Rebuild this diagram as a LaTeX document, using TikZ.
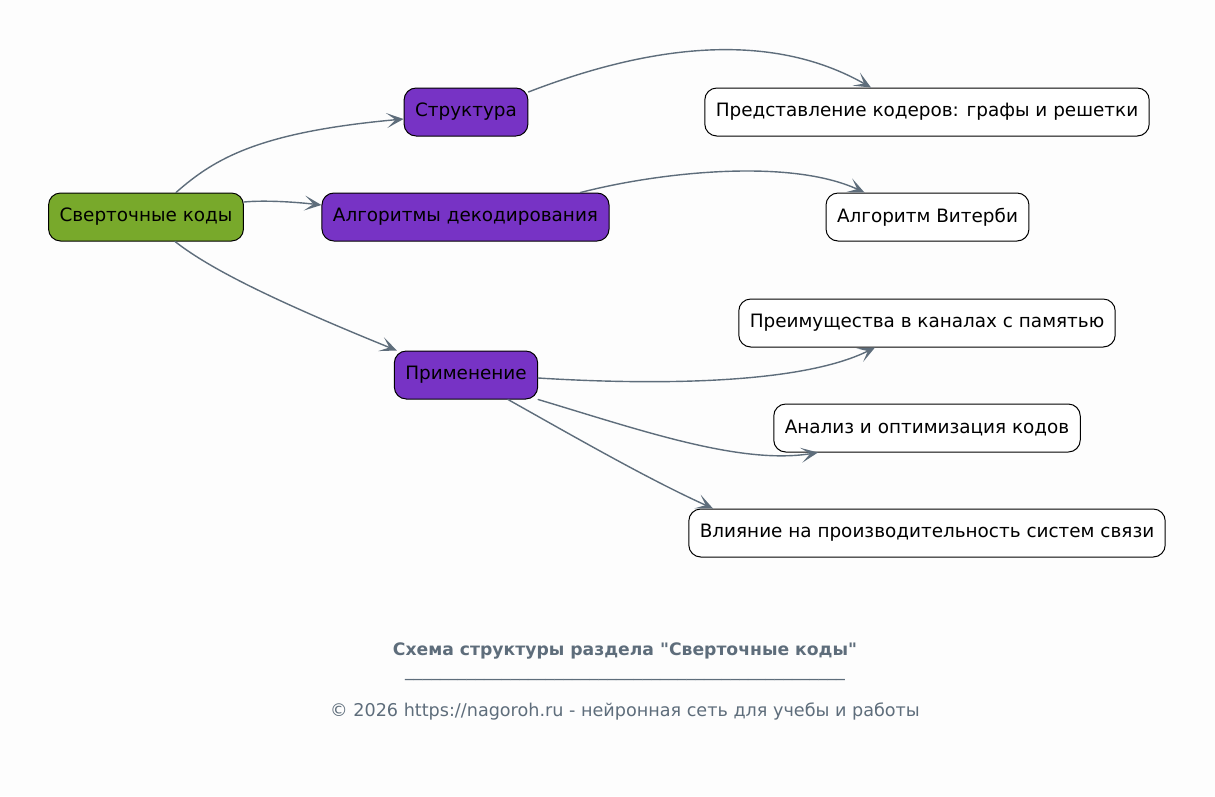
\documentclass[tikz,border=0pt]{standalone}
\usepackage{fontspec}
\setmainfont{DejaVu Sans}[Ligatures=TeXOff]
\usetikzlibrary{arrows.meta}
\definecolor{bgcol}{HTML}{FDFDFD}
\definecolor{rootcol}{HTML}{78A92B}
\definecolor{subcol}{HTML}{7733C5}
\definecolor{linkcol}{HTML}{5E6D7B}
\begin{document}
\begin{tikzpicture}[x=1pt,y=-1pt,line cap=round,line join=round,
	box/.style={draw=black,line width=1pt,rounded corners=12pt,minimum height=48pt,inner xsep=11pt,font=\fontsize{18.4}{22}\selectfont,text=black},
	rootbox/.style={box,fill=rootcol},
	subbox/.style={box,fill=subcol},
	leafbox/.style={box,fill=white},
	link/.style={draw=linkcol,line width=1.4pt,-{Stealth[length=17pt,width=15pt,inset=9pt]}}]
\fill[bgcol] (0,0) rectangle (1215,796);
\node[rootbox] (root) at (146,217) {Сверточные коды};
\node[subbox] (struct) at (466,112) {Структура};
\node[subbox] (algo) at (465.5,217) {Алгоритмы декодирования};
\node[subbox] (appl) at (466,375) {Применение};
\node[leafbox] (repr) at (927,112) {Представление кодеров: графы и решетки};
\node[leafbox] (vit) at (927.5,217) {Алгоритм Витерби};
\node[leafbox] (adv) at (927,323) {Преимущества в каналах с памятью};
\node[leafbox] (anl) at (927,428) {Анализ и оптимизация кодов};
\node[leafbox] (infl) at (927,533) {Влияние на производительность систем связи};
\draw[link] ([xshift=30pt]root.north) .. controls (215,158) and (260,132) .. ([yshift=-7pt]struct.west);
\draw[link] ([yshift=15pt]root.east) .. controls (265,200) and (295,202) .. ([yshift=12pt]algo.west);
\draw[link] ([xshift=29pt]root.south) .. controls (205,265) and (260,295) .. ([xshift=3pt]appl.north west);
\draw[link] ([yshift=20pt]struct.east) .. controls (650,45) and (770,30) .. ([xshift=-56pt]repr.north);
\draw[link] ([xshift=115pt]algo.north) .. controls (660,172) and (790,158) .. ([xshift=-63pt]vit.north);
\draw[link] ([yshift=-3pt]appl.east) .. controls (650,385) and (800,385) .. ([xshift=-52pt]adv.south);
\draw[link] (appl.south east) .. controls (640,430) and (740,465) .. ([xshift=-109pt]anl.south);
\draw[link] ([xshift=42pt]appl.south) .. controls (580,440) and (650,480) .. ([xshift=-214pt]infl.north);
\node[text=linkcol,font=\fontsize{17.2}{20}\selectfont\bfseries] (title) at (625,651) {Схема структуры раздела "Сверточные коды"};
\node[text=linkcol,font=\fontsize{17.6}{20}\selectfont] (rule) at (625,679) {\_\_\_\_\_\_\_\_\_\_\_\_\_\_\_\_\_\_\_\_\_\_\_\_\_\_\_\_\_\_\_\_\_\_\_\_\_\_\_\_\_\_\_\_\_\_\_\_\_\_};
\node[text=linkcol,font=\fontsize{17.6}{20}\selectfont] (copy) at (625,711) {© 2026 https://nagoroh.ru - нейронная сеть для учебы и работы};
\end{tikzpicture}
\end{document}
